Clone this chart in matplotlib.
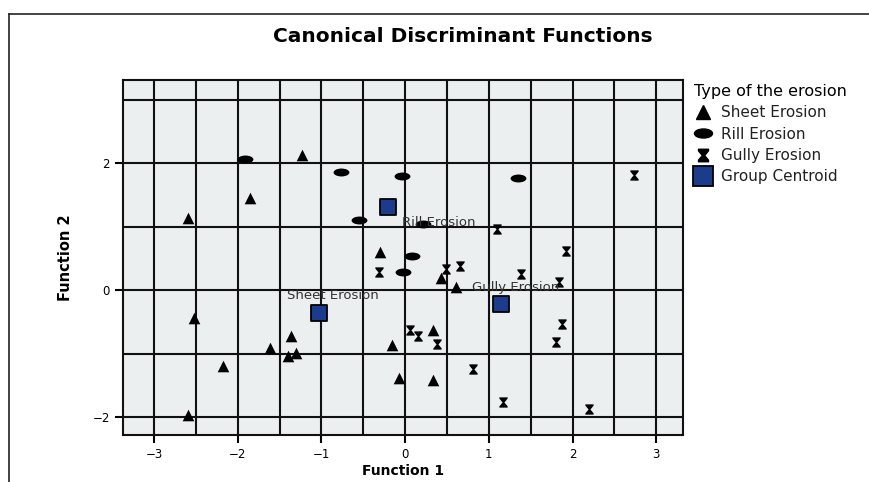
import numpy as np
import matplotlib
matplotlib.use("Agg")
import matplotlib.pyplot as plt
from matplotlib.path import Path
from matplotlib.lines import Line2D

# --- scores on the two discriminant functions ---
sheet_f1 = [-2.59, -1.85, -1.23, -2.52, -1.61, -1.36, -1.40, -1.30, -2.17, -2.59,
            -0.30, -0.16, -0.07, 0.33, 0.43, 0.61, 0.33]
sheet_f2 = [1.13, 1.45, 2.13, -0.44, -0.91, -0.72, -1.04, -0.99, -1.20, -1.97,
            0.60, -0.87, -1.39, -1.42, 0.20, 0.05, -0.63]

rill_f1 = [-1.91, -0.76, -0.04, -0.55, 0.21, 0.08, -0.02, 1.35]
rill_f2 = [2.06, 1.86, 1.80, 1.10, 1.04, 0.54, 0.28, 1.76]

gully_f1 = [2.73, 1.10, 1.92, -0.31, 0.06, 0.16, 0.49, 0.66, 1.38, 1.84,
            1.87, 1.80, 0.81, 1.17, 2.20, 0.38]
gully_f2 = [1.81, 0.96, 0.61, 0.28, -0.63, -0.72, 0.33, 0.38, 0.25, 0.13,
            -0.54, -0.82, -1.24, -1.76, -1.87, -0.84]

centroid_names = ["Rill Erosion", "Sheet Erosion", "Gully Erosion"]
centroid_f1 = [-0.20, -1.03, 1.15]
centroid_f2 = [1.31, -0.36, -0.22]
# where each centroid label starts (left edge, vertical centre)
label_f1 = [-0.04, -1.41, 0.80]
label_f2 = [1.07, -0.09, 0.05]

# --- custom marker shapes ---
circ = Path.unit_circle()
ellipse = Path(circ.vertices * np.array([1.0, 0.5]), circ.codes)
hourglass = Path([(-0.8, 1), (0.8, 1), (0.8, 0.75), (0.18, 0), (0.8, -0.75),
                  (0.8, -1), (-0.8, -1), (-0.8, -0.75), (-0.18, 0), (-0.8, 0.75),
                  (-0.8, 1)], closed=True)

fig = plt.figure(figsize=(8.7, 4.82), dpi=100)
fig.patch.set_facecolor("white")

# outer frame of the page
fig.add_artist(Line2D([9 / 870, 1], [1 - 14 / 482] * 2, transform=fig.transFigure,
                      color="#222222", lw=1.2))
fig.add_artist(Line2D([9 / 870] * 2, [0, 1 - 14 / 482], transform=fig.transFigure,
                      color="#222222", lw=1.2))

ax = fig.add_axes([123 / 870, 1 - 435 / 482, 560 / 870, 355 / 482])
ax.set_facecolor("#ecefef")
ax.set_xlim(-3.37, 3.32)
ax.set_ylim(-2.28, 3.31)

for gx in np.arange(-3, 3.01, 0.5):
    ax.axvline(gx, color="#111111", lw=1.5, zorder=1)
for gy in range(-2, 4):
    ax.axhline(gy, color="#111111", lw=1.5, zorder=1)

ax.scatter(sheet_f1, sheet_f2, marker="^", s=70, color="black", lw=0, zorder=3)
ax.scatter(rill_f1, rill_f2, marker=ellipse, s=130, color="black", lw=0, zorder=3)
ax.scatter(gully_f1, gully_f2, marker=hourglass, s=55, color="black", lw=0, zorder=3)
ax.scatter(centroid_f1, centroid_f2, marker="s", s=130, color="#1d3b8c",
           edgecolors="black", linewidths=1.3, zorder=4)

for name, lx, ly in zip(centroid_names, label_f1, label_f2):
    ax.text(lx, ly, name, fontsize=9.5, color="#333333", ha="left", va="center", zorder=5)

for side in ax.spines.values():
    side.set_linewidth(1.5)
    side.set_color("#111111")

ax.set_xticks([-3, -2, -1, 0, 1, 2, 3])
ax.set_xticklabels(["\u22123", "\u22122", "\u22121", "0", "1", "2", "3"])
ax.set_yticks([-2, 0, 2])
ax.set_yticklabels(["\u22122", "0", "2"])
ax.tick_params(axis="both", length=6, width=1.5, labelsize=8.5, pad=3.5)

ax.set_xlabel("Function 1", fontsize=10, fontweight="bold", labelpad=2)
ax.set_ylabel("Function 2", fontsize=10.5, fontweight="bold", labelpad=14)

fig.text(463 / 870, 1 - 37 / 482, "Canonical Discriminant Functions",
         fontsize=14.5, fontweight="heavy", ha="center", va="center")

handles = [
    Line2D([], [], ls="", marker="^", ms=10, color="black", label="Sheet Erosion"),
    Line2D([], [], ls="", marker=ellipse, ms=13, color="black", label="Rill Erosion"),
    Line2D([], [], ls="", marker=hourglass, ms=9, color="black", label="Gully Erosion"),
    Line2D([], [], ls="", marker="s", ms=14, markerfacecolor="#1d3b8c",
           markeredgecolor="black", markeredgewidth=1.3, label="Group Centroid"),
]
leg = fig.legend(handles=handles, title="Type of the erosion", loc="upper left",
                 bbox_to_anchor=(683 / 870, 1 - 73 / 482), frameon=False,
                 fontsize=11, title_fontsize=11.5, handletextpad=0.6,
                 labelspacing=0.42, handlelength=1.2, borderpad=0.2)
leg._legend_box.align = "left"
for t in leg.get_texts():
    t.set_color("#222222")

fig.savefig("out.png", dpi=100)
